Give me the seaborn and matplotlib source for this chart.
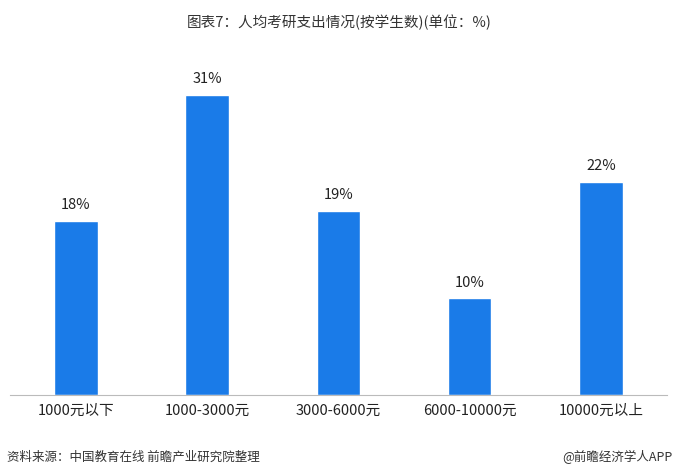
import matplotlib
matplotlib.use("Agg")
import matplotlib.pyplot as plt
import seaborn as sns
import pandas as pd

categories = ["1000元以下", "1000-3000元", "3000-6000元", "6000-10000元", "10000元以上"]
values = [18, 31, 19, 10, 22]
labels = ["18%", "31%", "19%", "10%", "22%"]

sns.set_style("white")
plt.rcParams['font.family'] = ['Noto Sans CJK SC', 'DejaVu Sans']

fig = plt.figure(figsize=(6.79, 4.75), dpi=100)
ax = fig.add_axes([0.015, 0.168, 0.967, 0.714])
df = pd.DataFrame({"cat": categories, "val": values})
sns.barplot(data=df, x="cat", y="val", color="#1a7be8", saturation=1, width=0.33, ax=ax)
ax.set_ylim(0, 35)
ax.set_xlim(-0.5, 4.5)
for i, (v, l) in enumerate(zip(values, labels)):
    ax.text(i, v + 0.9, l, ha="center", va="bottom", fontsize=10.5, color="#222222")
ax.set_xlabel(""); ax.set_ylabel("")
ax.set_yticks([])
ax.tick_params(axis="x", length=0, labelsize=10.5, colors="#222222", pad=6)
for s in ["top", "right", "left"]:
    ax.spines[s].set_visible(False)
ax.spines["bottom"].set_color("#bbbbbb")
fig.text(0.5, 0.953, "图表7：人均考研支出情况(按学生数)(单位：%)", ha="center", va="center", fontsize=10.5, color="#333333")
fig.text(0.01, 0.038, "资料来源：中国教育在线 前瞻产业研究院整理", ha="left", va="center", fontsize=9, color="#333333")
fig.text(0.99, 0.038, "@前瞻经济学人APP", ha="right", va="center", fontsize=9, color="#333333")
fig.savefig("out.png", dpi=100)
